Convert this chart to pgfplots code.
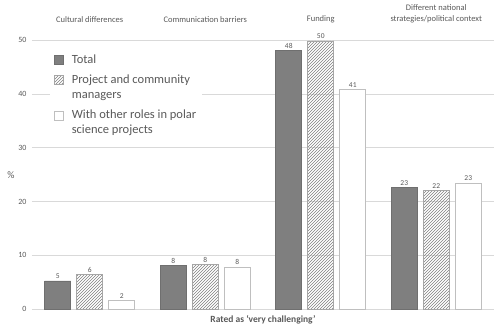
\documentclass[border=0pt]{standalone}
\usepackage{fontspec}
\setmainfont{Carlito}
\usepackage{pgfplots}
\pgfplotsset{compat=1.18}
\usetikzlibrary{patterns}
\definecolor{txt}{HTML}{595959}
\definecolor{gridc}{HTML}{D9D9D9}
\definecolor{dark}{HTML}{7F7F7F}
\definecolor{darkb}{HTML}{6F6F6F}
\definecolor{hatchb}{HTML}{A6A6A6}
\definecolor{whiteb}{HTML}{BFBFBF}
\pgfplotsset{twoline/.style={legend image code/.code={\draw[##1, line width=0.6pt] (0pt,3pt) rectangle (9pt,12pt);}}}
\begin{document}
\begin{tikzpicture}[x=1pt,y=1pt]
\useasboundingbox (-32,-23) rectangle (468,309);
\begin{axis}[
  scale only axis,
  width=462pt, height=268.7pt,
  at={(0,0)}, anchor=south west,
  xmin=-0.5, xmax=3.5, ymin=0, ymax=50,
  axis line style={draw=none},
  ytick={0,10,20,30,40,50},
  ymajorgrids, major grid style={gridc, line width=0.6pt},
  major tick length=0pt,
  xtick={0,1,2,3},
  xticklabels={Cultural differences, Communication barriers, Funding, {Different national\\strategies/political context}},
  xticklabel pos=upper,
  xticklabel style={font=\fontsize{8.5}{10.5}\selectfont, text=txt, align=center, yshift=14pt},
  yticklabel style={font=\fontsize{8}{10}\selectfont, text=txt, xshift=-2pt},
  /pgf/number format/assume math mode=true,
  ylabel={\%}, ylabel style={rotate=-90, font=\fontsize{10}{12}\selectfont, text=txt, at={(rel axis cs:0,0.5)}, xshift=-14pt},
  xlabel={\textbf{Rated as ‘very challenging’}}, xlabel style={font=\fontsize{9.5}{11}\selectfont, text=txt, at={(rel axis cs:0.5,0)}, anchor=north, yshift=-3pt},
  ybar=6pt, bar width=26pt,
  nodes near coords,
  nodes near coords style={font=\fontsize{7.5}{9}\selectfont, text=txt, /pgf/number format/fixed, /pgf/number format/precision=0, inner sep=2pt},
  legend style={at={(rel axis cs:0.039,0.965)}, anchor=north west, draw=none, fill=white,
    font=\fontsize{12.5}{15}\selectfont, text=txt, nodes={align=left}, row sep=6pt, column sep=6pt, inner xsep=4pt, inner ysep=3pt},
  legend cell align=left,
  legend image code/.code={\draw[#1, line width=0.6pt] (0pt,-4.5pt) rectangle (9pt,4.5pt);},
]
\addplot[fill=dark, draw=darkb, line width=0.6pt] coordinates {(0,5.24) (1,8.1) (2,48.1) (3,22.6)};
\addlegendentry{Total}
\addplot[pattern=north east lines, pattern color=gray, draw=hatchb, line width=0.6pt, twoline] coordinates {(0,6.4) (1,8.3) (2,49.9) (3,22.0)};
\addlegendentry{Project and community\\managers}
\addplot[fill=white, draw=whiteb, line width=0.8pt, twoline] coordinates {(0,1.6) (1,7.8) (2,40.8) (3,23.4)};
\addlegendentry{With other roles in polar\\science projects}
\end{axis}
\end{tikzpicture}
\end{document}
